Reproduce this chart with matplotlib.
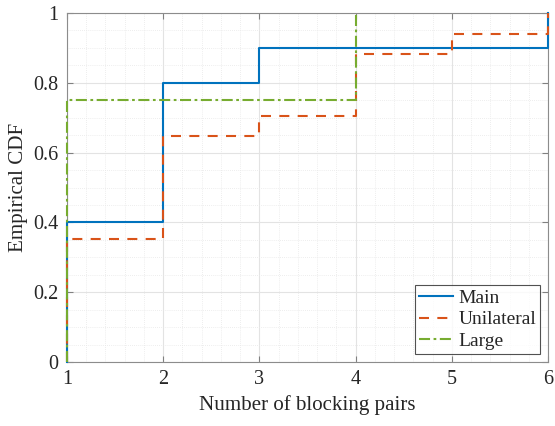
import matplotlib
matplotlib.use("Agg")
import matplotlib.pyplot as plt
from matplotlib.ticker import MultipleLocator

# ECDF step data (x positions of jumps, CDF values after each jump)
main_x = [1, 2, 3, 6]
main_F = [0.40, 0.80, 0.90, 1.00]
uni_x = [1, 2, 3, 4, 5, 6]
uni_F = [0.353, 0.647, 0.706, 0.882, 0.941, 1.00]
large_x = [1, 4]
large_F = [0.75, 1.00]
labels = ["Main", "Unilateral", "Large"]
xticks = [1, 2, 3, 4, 5, 6]
yticks = [0, 0.2, 0.4, 0.6, 0.8, 1]

plt.rcParams['font.family'] = ['Liberation Serif', 'DejaVu Serif']

fig = plt.figure(figsize=(5.55, 4.26), dpi=100)
ax = fig.add_axes([0.1207, 0.1502, 0.8667, 0.8193])

def stairs(x, F):
    return [x[0]] + list(x), [0] + list(F)

lw = 1.5
xs, ys = stairs(main_x, main_F)
ax.step(xs, ys, where='post', color='#0072BD', lw=lw, label=labels[0], clip_on=False, zorder=3)
xs, ys = stairs(uni_x, uni_F)
ax.step(xs, ys, where='post', color='#D95319', lw=lw, ls=(0, (4.8, 4.0)), label=labels[1],
        clip_on=False, zorder=4)
xs, ys = stairs(large_x, large_F)
ax.step(xs, ys, where='post', color='#77AC30', lw=lw, ls=(0, (5.3, 1.7, 1.3, 1.7)), label=labels[2],
        clip_on=False, zorder=5)

ax.set_xlim(1, 6)
ax.set_ylim(0, 1)
ax.set_xticks(xticks)
ax.set_yticks(yticks)
ax.set_xticklabels([str(t) for t in xticks])
ax.set_yticklabels(['0', '0.2', '0.4', '0.6', '0.8', '1'])
ax.xaxis.set_minor_locator(MultipleLocator(0.2))
ax.yaxis.set_minor_locator(MultipleLocator(0.05))
ax.grid(True, which='major', color='#e3e3e3', lw=0.8)
ax.grid(True, which='minor', color='#e8e8e8', lw=0.6, ls=(0, (1, 1.5)))
ax.set_axisbelow(True)
ax.tick_params(which='both', direction='in', top=True, right=True, colors='#262626',
               labelsize=14.5, pad=6)
ax.tick_params(which='minor', length=0)
ax.tick_params(which='major', length=4, color='#808080')
for s in ax.spines.values():
    s.set_color('#8c8c8c')
    s.set_linewidth(0.8)

ax.set_xlabel('Number of blocking pairs', fontsize=15.1, color='#262626', labelpad=4)
ax.set_ylabel('Empirical CDF', fontsize=15.1, color='#262626', labelpad=4)

leg = ax.legend(loc='lower right', fontsize=14, frameon=True, fancybox=False,
                edgecolor='#262626', handlelength=1.75, handletextpad=0.25,
                borderpad=0.2, labelspacing=0.2, borderaxespad=0.42)
leg.get_frame().set_linewidth(0.8)
leg.set_zorder(10)
for t in leg.get_texts():
    t.set_color('#262626')

fig.savefig('out.png', dpi=100)
